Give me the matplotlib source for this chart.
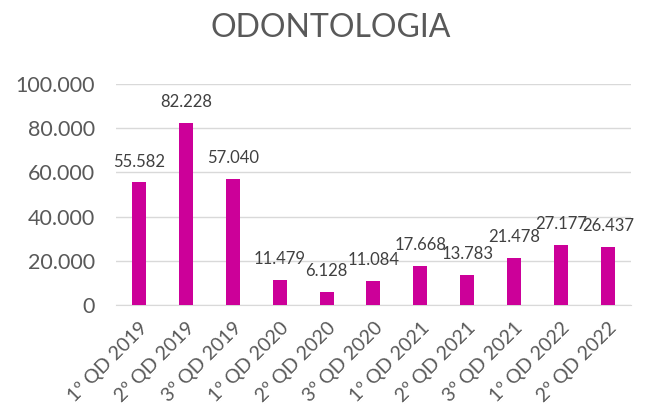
import numpy as np
import matplotlib.pyplot as plt

categories = ['1º QD 2019', '2º QD 2019', '3º QD 2019', '1º QD 2020', '2º QD 2020', '3º QD 2020',
              '1º QD 2021', '2º QD 2021', '3º QD 2021', '1º QD 2022', '2º QD 2022']
values = [55582, 82228, 57040, 11479, 6128, 11084, 17668, 13783, 21478, 27177, 26437]
yticks = [0, 20000, 40000, 60000, 80000, 100000]


def fmt(v):
    return f"{v:,}".replace(',', '.')


plt.rcParams['font.family'] = ['Lato', 'DejaVu Sans']

fig = plt.figure(figsize=(6.61, 4.18), dpi=100)
ax = fig.add_axes([0.175, 0.27, 0.78, 0.53])

x = np.arange(len(categories))
bars = ax.bar(x, values, width=0.3, color='#CC0099', zorder=3)
ax.bar_label(bars, labels=[fmt(v) for v in values], padding=9, fontsize=12, color='#404040')

ax.set_ylim(0, 100000)
ax.set_xlim(-0.5, len(categories) - 0.5)
ax.set_yticks(yticks)
ax.set_yticklabels([fmt(v) for v in yticks], fontsize=15.5, color='#595959')
ax.set_xticks(x)
ax.set_xticklabels(categories, rotation=45, ha='right', rotation_mode='anchor',
                   fontsize=14, color='#595959')
ax.tick_params(length=0)
ax.tick_params(axis='y', pad=15)
ax.tick_params(axis='x', pad=10)
ax.grid(axis='y', color='#D9D9D9', linewidth=1, zorder=0)
for s in ['top', 'right', 'left']:
    ax.spines[s].set_visible(False)
ax.spines['bottom'].set_color('#D9D9D9')

fig.suptitle('ODONTOLOGIA', y=0.97, fontsize=23, color='#595959')

fig.savefig('out.png', dpi=100)
